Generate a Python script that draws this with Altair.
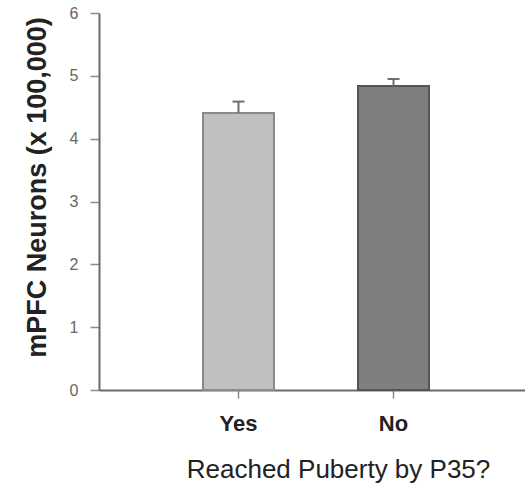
import altair as alt
import pandas as pd

groups = ["Yes", "No"]
means = [4.41, 4.84]
sems = [0.18, 0.11]
fills = ["#c0c0c0", "#7f7f7f"]
strokes = ["#8a8a8a", "#555555"]
y_ticks = [0, 1, 2, 3, 4, 5, 6]

df = pd.DataFrame({
    "group": groups,
    "mean": means,
    "sem": sems,
    "fill": fills,
    "stroke": strokes,
})
df["upper"] = df["mean"] + df["sem"]

FONT = "Liberation Sans"
AXIS_GRAY = "#6a6a6a"

x_enc = alt.X(
    "group:N",
    sort=groups,
    scale=alt.Scale(paddingInner=0.542, paddingOuter=0.645, align=0.52),
    axis=alt.Axis(
        title="Reached Puberty by P35?",
        titleFont=FONT,
        titleFontSize=26,
        titleFontWeight="normal",
        titleColor="#222222",
        titleX=239,
        titleY=79,
        titleAlign="center",
        titleBaseline="middle",
        labelFont=FONT,
        labelFontSize=22,
        labelFontWeight="bold",
        labelColor="#222222",
        labelAngle=0,
        labelPadding=15,
        tickSize=8,
        tickColor="#8a8a8a",
        tickWidth=1.5,
        domainColor=AXIS_GRAY,
        domainWidth=2,
        grid=False,
    ),
)

y_scale = alt.Scale(domain=[0, 6], nice=False, zero=True)

bars = alt.Chart(df).mark_bar(strokeWidth=2).encode(
    x=x_enc,
    y=alt.Y(
        "mean:Q",
        scale=y_scale,
        axis=alt.Axis(
            title="mPFC Neurons (x 100,000)",
            titleFont=FONT,
            titleFontSize=27,
            titleFontWeight="bold",
            titleColor="#222222",
            titleX=-62,
            titleY=174,
            titleAlign="center",
            titleBaseline="middle",
            values=y_ticks,
            format="d",
            labelFont=FONT,
            labelFontSize=16,
            labelColor="#666666",
            labelPadding=12,
            tickSize=9,
            tickColor="#8a8a8a",
            tickWidth=1.5,
            domainColor=AXIS_GRAY,
            domainWidth=2,
            grid=False,
        ),
    ),
    fill=alt.Fill("fill:N", scale=None),
    stroke=alt.Stroke("stroke:N", scale=None),
)

err = alt.Chart(df).mark_rule(color="#6e6e6e", strokeWidth=2).encode(
    x=alt.X("group:N", sort=groups),
    y="mean:Q",
    y2="upper:Q",
)

cap = alt.Chart(df).mark_point(
    shape="M-1,0L1,0", size=144, filled=False, color="#6e6e6e", strokeWidth=2, opacity=1
).encode(
    x=alt.X("group:N", sort=groups),
    y="upper:Q",
)

chart = (
    alt.layer(bars, err, cap)
    .properties(
        width=426,
        height=377,
        autosize=alt.AutoSizeParams(type="none"),
        padding={"left": 99, "top": 13, "right": 0, "bottom": 96},
        background="white",
    )
    .configure_view(stroke=None)
)

chart.save("out.html", embed_options={"renderer": "svg", "actions": False})
